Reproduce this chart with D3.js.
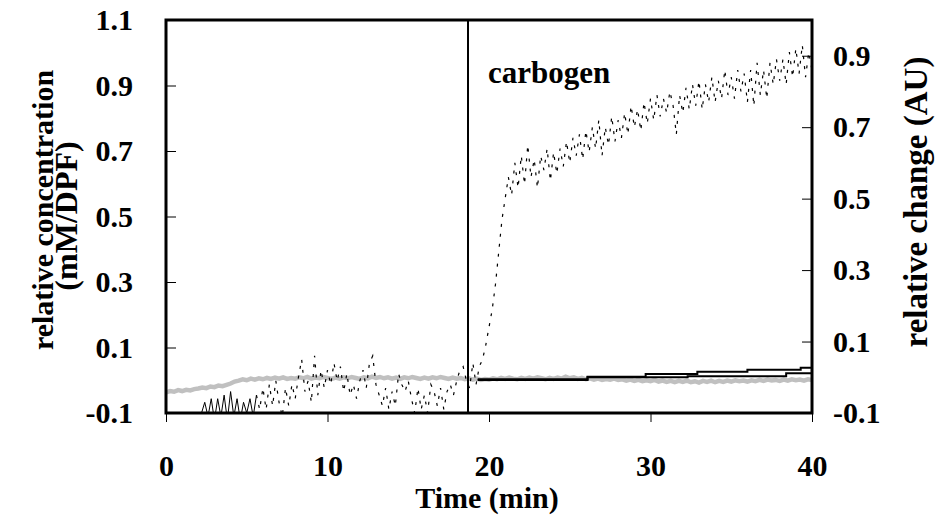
<!DOCTYPE html>
<html>
<head>
<meta charset="utf-8">
<script src="https://cdn.jsdelivr.net/npm/d3@7"></script>
<style>
  html, body { margin: 0; padding: 0; background: #fff; }
  svg text { font-family: "Liberation Serif", "Times New Roman", serif; font-weight: bold; fill: #000; }
</style>
</head>
<body>
<svg id="chart" width="936" height="521"></svg>
<script>
// ---------------- data ----------------
const xTicks = [0, 10, 20, 30, 40];
const leftTicks = [-0.1, 0.1, 0.3, 0.5, 0.7, 0.9, 1.1];
const rightTicks = [-0.1, 0.1, 0.3, 0.5, 0.7, 0.9];
const carbogenTime = 18.7;
const carbogenLabel = "carbogen";

// noisy black trace (right axis), sampled every 0.2 min from t = 0
const blackStart = 0;
const blackStep = 0.2;
const blackValues = [
  -0.14, -0.16, -0.13, -0.15, -0.14, -0.17, -0.13, -0.15, -0.14, -0.16,
  -0.13, -0.10, -0.07, -0.11, -0.06, -0.12, -0.06, -0.11, -0.05, -0.12,
  -0.04, -0.11, -0.06, -0.12, -0.07, -0.10, -0.06, -0.11, -0.05, -0.09,
  -0.03, -0.09, -0.02, -0.08, -0.01, -0.07, -0.11, -0.03, -0.08, -0.02,
  -0.06, 0.00, 0.05, -0.04, -0.01, -0.07, 0.06, -0.05, 0.02, -0.03,
  0.02, -0.02, 0.04, -0.01, 0.03, -0.04, 0.01, -0.05, -0.02, -0.06,
  -0.01, 0.02, -0.03, 0.04, 0.06, -0.02, -0.05, -0.08, -0.03, -0.09,
  -0.04, -0.08, 0.01, -0.02, -0.04, -0.01, -0.06, -0.10, -0.03, -0.09,
  -0.05, -0.10, -0.02, -0.04, -0.08, -0.03, -0.09, -0.04, -0.02, -0.05,
  -0.01, 0.02, 0.03, -0.01, -0.03, 0.04, -0.02, 0.03, 0.05, 0.09,
  0.14, 0.19, 0.26, 0.35, 0.44, 0.50, 0.56, 0.51, 0.60, 0.53,
  0.62, 0.54, 0.65, 0.56, 0.61, 0.53, 0.62, 0.58, 0.64, 0.55,
  0.63, 0.57, 0.64, 0.59, 0.66, 0.60, 0.67, 0.62, 0.68, 0.61,
  0.69, 0.63, 0.70, 0.64, 0.72, 0.62, 0.70, 0.65, 0.73, 0.66,
  0.72, 0.67, 0.74, 0.68, 0.76, 0.70, 0.75, 0.69, 0.77, 0.71,
  0.78, 0.72, 0.79, 0.73, 0.78, 0.74, 0.80, 0.76, 0.68, 0.79,
  0.74, 0.81, 0.75, 0.82, 0.76, 0.83, 0.75, 0.82, 0.77, 0.84,
  0.77, 0.83, 0.78, 0.86, 0.79, 0.84, 0.78, 0.86, 0.80, 0.85,
  0.77, 0.86, 0.76, 0.88, 0.79, 0.86, 0.78, 0.88, 0.82, 0.89,
  0.83, 0.89, 0.82, 0.91, 0.84, 0.92, 0.85, 0.93, 0.84, 0.91,
  0.86
];
const blackDenseUntil = 5.6; // early dense stretch drawn solid

// grey trace (left axis), sampled every 0.25 min from t = 0
const greyStart = 0;
const greyStep = 0.25;
const greyValues = [
  -0.037, -0.033, -0.035, -0.030, -0.033, -0.029, -0.031, -0.027,
  -0.025, -0.022, -0.024, -0.019, -0.021, -0.016, -0.018, -0.014,
  -0.010, -0.004, -0.001, 0.003, 0.000, 0.005, 0.002, 0.006,
  0.003, 0.007, 0.004, 0.008, 0.005, 0.009, 0.004, 0.007,
  0.005, 0.009, 0.006, 0.010, 0.005, 0.008, 0.006, 0.010,
  0.007, 0.004, 0.008, 0.005, 0.009, 0.006, 0.010, 0.007,
  0.004, 0.009, 0.006, 0.011, 0.007, 0.010, 0.006, 0.009,
  0.005, 0.008, 0.004, 0.009, 0.006, 0.010, 0.007, 0.004,
  0.008, 0.005, 0.009, 0.006, 0.010, 0.007, 0.004, 0.008,
  0.005, 0.007, 0.003, 0.006, 0.002, 0.005, 0.001, 0.004,
  0.002, 0.006, 0.003, 0.007, 0.004, 0.008, 0.005, 0.003,
  0.007, 0.004, 0.008, 0.005, 0.009, 0.006, 0.003, 0.007,
  0.004, 0.008, 0.005, 0.011, 0.006, 0.009, 0.004, 0.007,
  0.003, 0.006, 0.002, 0.005, 0.001, 0.004, 0.002, 0.005,
  0.001, 0.003, -0.001, 0.002, -0.002, 0.001, -0.003, 0.000,
  -0.003, 0.001, -0.004, -0.001, -0.005, -0.002, -0.006, -0.002,
  -0.005, -0.001, -0.006, -0.003, -0.007, -0.002, -0.005, -0.001,
  -0.006, -0.002, -0.005, -0.001, -0.004, 0.000, -0.003, -0.001,
  -0.004, 0.000, -0.003, 0.001, -0.002, 0.002, -0.001, 0.001,
  -0.002, 0.002, -0.001, 0.003, 0.000, 0.002, -0.001, 0.003,
  0.001
];

// two staircase traces (left axis)
const stepUpperTimes = [19.3, 26.1, 29.7, 32.9, 36.0, 39.3, 40];
const stepUpperValues = [0.003, 0.011, 0.019, 0.026, 0.032, 0.038, 0.038];
const stepLowerTimes = [19.3, 26.1, 32.3, 38.4, 40];
const stepLowerValues = [0.001, 0.009, 0.012, 0.021, 0.021];

// ---------------- layout ----------------
const L = 166, R = 812, T = 20, B = 413;
const svg = d3.select("#chart");

const x = d3.scaleLinear().domain([0, 40]).range([L, R]);
const yL = d3.scaleLinear().domain([-0.1, 1.1]).range([B, T]);
const yR = d3.scaleLinear().domain([-0.1, 1.0]).range([B, T]);

svg.append("defs").append("clipPath").attr("id", "plotclip")
  .append("rect").attr("x", L).attr("y", T).attr("width", R - L).attr("height", B - T);

const plot = svg.append("g").attr("clip-path", "url(#plotclip)");

// grey trace
const greyData = greyValues.map((v, i) => [greyStart + i * greyStep, v]);
plot.append("path")
  .datum(greyData)
  .attr("fill", "none")
  .attr("stroke", "#c0c0c0")
  .attr("stroke-width", 4.5)
  .attr("d", d3.line().x(d => x(d[0])).y(d => yL(d[1])));

// noisy black trace (dotted line style; early dense stretch solid)
const blackData = blackValues.map((v, i) => [blackStart + i * blackStep, v]);
const blackLine = d3.line().x(d => x(d[0])).y(d => yR(d[1]));
plot.append("path")
  .datum(blackData.filter(d => d[0] <= blackDenseUntil + 1e-9))
  .attr("fill", "none")
  .attr("stroke", "#000")
  .attr("stroke-width", 1)
  .attr("d", blackLine);
plot.append("path")
  .datum(blackData.filter(d => d[0] >= blackDenseUntil - 1e-9))
  .attr("fill", "none")
  .attr("stroke", "#000")
  .attr("stroke-width", 1.2)
  .attr("stroke-dasharray", "3,7")
  .attr("d", blackLine);

// staircase traces
const stepLine = d3.line().curve(d3.curveStepAfter).x(d => x(d[0])).y(d => yL(d[1]));
plot.append("path")
  .datum(stepUpperTimes.map((t, i) => [t, stepUpperValues[i]]))
  .attr("fill", "none").attr("stroke", "#000").attr("stroke-width", 2)
  .attr("d", stepLine);
plot.append("path")
  .datum(stepLowerTimes.map((t, i) => [t, stepLowerValues[i]]))
  .attr("fill", "none").attr("stroke", "#000").attr("stroke-width", 2)
  .attr("d", stepLine);

// carbogen marker
svg.append("line")
  .attr("x1", x(carbogenTime)).attr("x2", x(carbogenTime))
  .attr("y1", T).attr("y2", B)
  .attr("stroke", "#000").attr("stroke-width", 2);
svg.append("text")
  .attr("x", 488).attr("y", 83)
  .style("font-size", "31px")
  .text(carbogenLabel);

// axes
const fmt = d => d.toFixed(1);
const gx = svg.append("g").attr("transform", `translate(0,${B})`)
  .call(d3.axisBottom(x).tickValues(xTicks).tickSize(9).tickPadding(33).tickFormat(d3.format("d")));
const gl = svg.append("g").attr("transform", `translate(${L},0)`)
  .call(d3.axisLeft(yL).tickValues(leftTicks).tickSize(-10).tickPadding(33).tickFormat(fmt));
const gr = svg.append("g").attr("transform", `translate(${R},0)`)
  .call(d3.axisRight(yR).tickValues(rightTicks).tickSize(-10).tickPadding(21).tickFormat(fmt));
[gx, gl, gr].forEach(g => {
  g.select(".domain").remove();
  g.selectAll(".tick line").attr("stroke", "#000").attr("stroke-width", 1);
  g.selectAll(".tick text").style("font-size", "30px").attr("font-family", null).attr("font-size", null);
});

// frame
svg.append("rect")
  .attr("x", L).attr("y", T).attr("width", R - L).attr("height", B - T)
  .attr("fill", "none").attr("stroke", "#000").attr("stroke-width", 3);

// titles
svg.append("text")
  .attr("x", x(20) - 2).attr("y", 508)
  .attr("text-anchor", "middle")
  .style("font-size", "30px")
  .text("Time (min)");

svg.append("text")
  .attr("transform", "translate(53,210) rotate(-90)")
  .attr("text-anchor", "middle")
  .style("font-size", "30px")
  .text("relative concentration");
svg.append("text")
  .attr("transform", "translate(77,216) rotate(-90)")
  .attr("text-anchor", "middle")
  .style("font-size", "32px")
  .text("(mM/DPF)");

svg.append("text")
  .attr("transform", "translate(927,202) rotate(-90)")
  .attr("text-anchor", "middle")
  .style("font-size", "33px")
  .text("relative change (AU)");
</script>
</body>
</html>
